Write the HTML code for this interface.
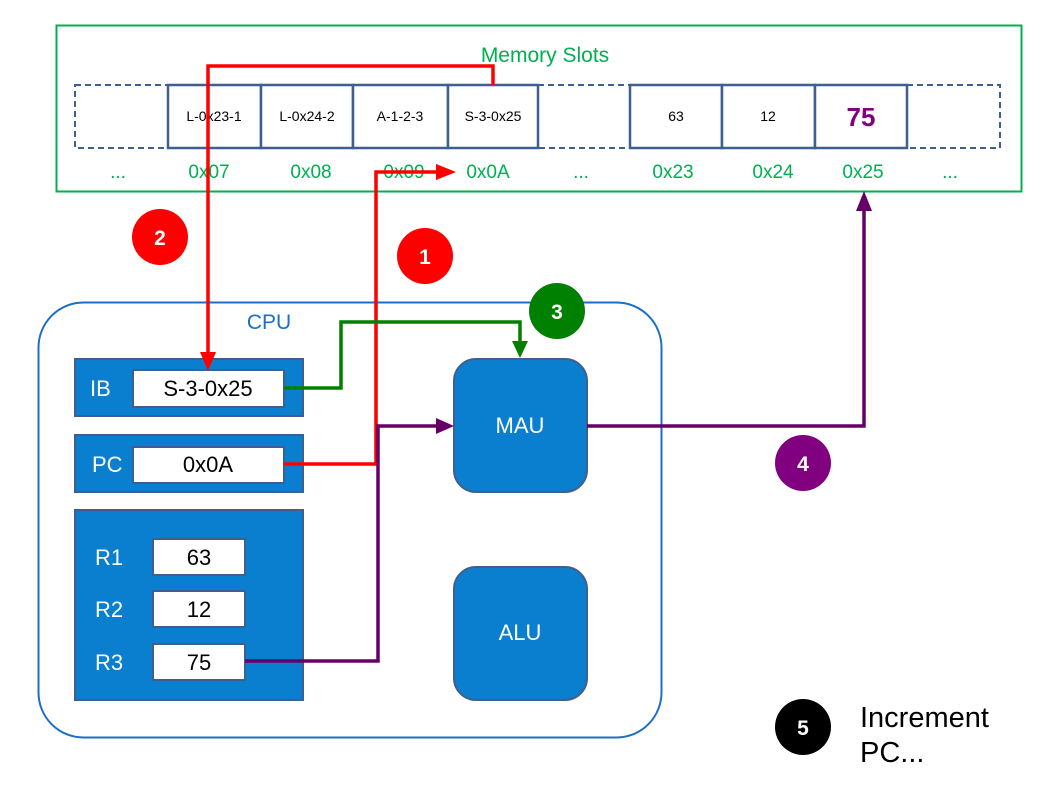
<!DOCTYPE html>
<html><head><meta charset="utf-8"><style>html,body{margin:0;padding:0;background:#fff}svg{display:block}</style></head>
<body>
<svg width="1058" height="794" viewBox="0 0 1058 794" xmlns="http://www.w3.org/2000/svg" font-family="Liberation Sans, Arial, sans-serif">
<rect x="56.5" y="25.5" width="965" height="166" fill="#fff" stroke="#00b050" stroke-width="2"/>
<text x="545" y="62" font-size="21" fill="#00b050" text-anchor="middle">Memory Slots</text>
<g fill="none" stroke="#3f5f8f" stroke-width="2" stroke-dasharray="6,4">
<rect x="75" y="85" width="93" height="63"/>
<rect x="538" y="85" width="92" height="63"/>
<rect x="907" y="85" width="93" height="63"/>
</g>
<g fill="#fff" stroke="#3f5f8f" stroke-width="2.5">
<rect x="168" y="85" width="93" height="63"/>
<rect x="261" y="85" width="92" height="63"/>
<rect x="353" y="85" width="95" height="63"/>
<rect x="448" y="85" width="90" height="63"/>
<rect x="630" y="85" width="92" height="63"/>
<rect x="722" y="85" width="93" height="63"/>
<rect x="815" y="85" width="92" height="63"/>
</g>
<g font-size="14" fill="#000" text-anchor="middle">
<text x="214" y="121">L-0x23-1</text>
<text x="307" y="121">L-0x24-2</text>
<text x="400" y="121">A-1-2-3</text>
<text x="493" y="121">S-3-0x25</text>
<text x="676" y="121">63</text>
<text x="768" y="121">12</text>
</g>
<text x="861" y="126" font-size="26" font-weight="bold" fill="#800080" text-anchor="middle">75</text>
<g font-size="19" fill="#00b050" text-anchor="middle">
<text x="118" y="178">...</text>
<text x="209" y="178">0x07</text>
<text x="311" y="178">0x08</text>
<text x="404" y="178">0x09</text>
<text x="488" y="178">0x0A</text>
<text x="581" y="178">...</text>
<text x="673" y="178">0x23</text>
<text x="773" y="178">0x24</text>
<text x="863" y="178">0x25</text>
<text x="950" y="178">...</text>
</g>
<rect x="38.5" y="302.5" width="623" height="435" rx="45" fill="#fff" stroke="#1c6fc9" stroke-width="2"/>
<text x="269" y="329" font-size="21" fill="#1c6fc9" text-anchor="middle">CPU</text>
<g fill="#0a7fd0" stroke="#3f5f8f" stroke-width="2">
<rect x="75" y="359" width="228" height="57"/>
<rect x="75" y="435" width="228" height="57"/>
<rect x="75" y="510" width="228" height="190"/>
<rect x="454" y="359" width="133" height="133" rx="22"/>
<rect x="454" y="567" width="133" height="133" rx="22"/>
</g>
<g fill="#fff" stroke="#3f5f8f" stroke-width="2">
<rect x="133" y="370" width="151" height="37"/>
<rect x="133" y="447" width="151" height="36"/>
<rect x="153" y="539" width="92" height="36"/>
<rect x="153" y="591" width="92" height="36"/>
<rect x="153" y="644" width="92" height="36"/>
</g>
<g font-size="22" fill="#fff">
<text x="90" y="396">IB</text>
<text x="92" y="472">PC</text>
<text x="95" y="565">R1</text>
<text x="95" y="617">R2</text>
<text x="95" y="670">R3</text>
<text x="520" y="433" text-anchor="middle">MAU</text>
<text x="520" y="640" text-anchor="middle">ALU</text>
</g>
<g font-size="22" fill="#000" text-anchor="middle">
<text x="208" y="396">S-3-0x25</text>
<text x="208" y="472">0x0A</text>
<text x="199" y="565">63</text>
<text x="199" y="617">12</text>
<text x="199" y="670">75</text>
</g>
<g fill="none" stroke-width="3.5">
<polyline points="493,85 493,66 208,66 208,354" stroke="#ff0000"/>
<polyline points="284,464 376,464 376,172 438,172" stroke="#ff0000"/>
<polyline points="284,388 341,388 341,322 520,322 520,343" stroke="#008000"/>
<polyline points="245,661 378,661 378,426 438,426" stroke="#660066"/>
<polyline points="587,426 864,426 864,209" stroke="#660066"/>
</g>
<polygon points="200,352 216,352 208,371" fill="#ff0000"/>
<polygon points="436,164 436,180 456,172" fill="#ff0000"/>
<polygon points="512,341 528,341 520,358" fill="#008000"/>
<polygon points="436,418 436,434 454,426" fill="#660066"/>
<polygon points="856,211 872,211 864,191" fill="#660066"/>
<g font-size="21" font-weight="bold" fill="#fff" text-anchor="middle">
<circle cx="160" cy="237" r="28" fill="#ff0000"/><text x="160" y="245">2</text>
<circle cx="425" cy="256" r="28" fill="#ff0000"/><text x="425" y="264">1</text>
<circle cx="557" cy="311" r="28" fill="#008000"/><text x="557" y="319">3</text>
<circle cx="803" cy="463" r="28" fill="#800080"/><text x="803" y="471">4</text>
<circle cx="803" cy="727" r="28" fill="#000"/><text x="803" y="735">5</text>
</g>
<text x="860" y="727" font-size="29" fill="#000">Increment</text>
<text x="860" y="762" font-size="29" fill="#000">PC...</text>
</svg>
</body></html>
